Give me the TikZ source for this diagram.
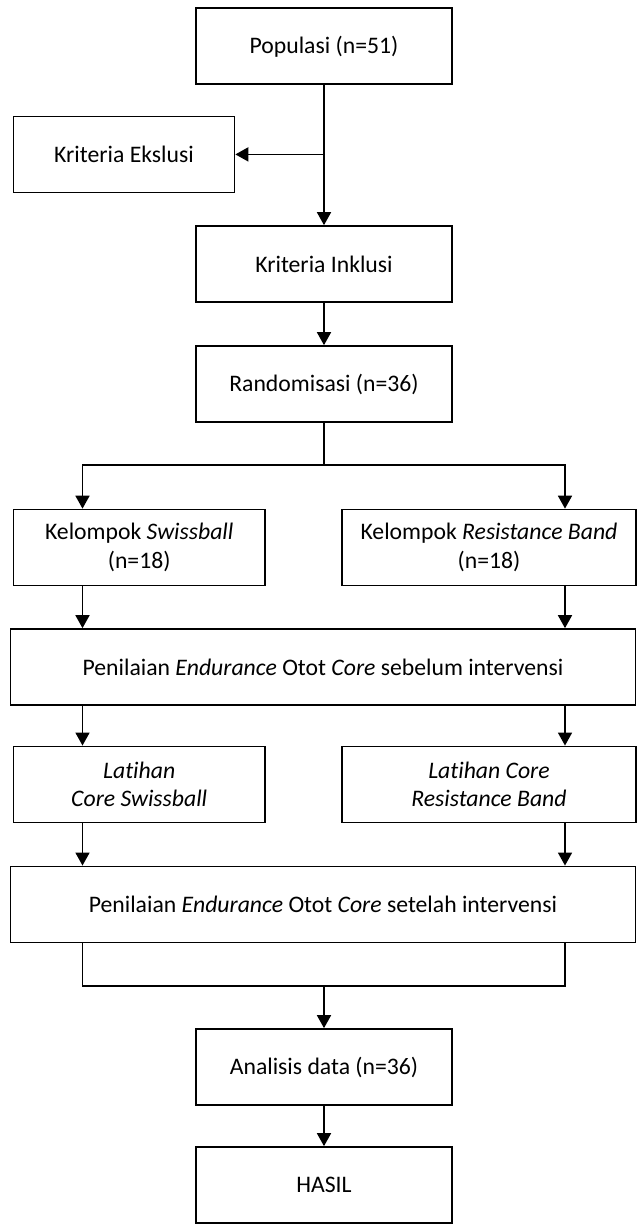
\documentclass[tikz,border=0pt]{standalone}
\usepackage{fontspec}
\setmainfont{Carlito}[Ligatures=NoCommon]
\usetikzlibrary{arrows.meta}
\begin{document}
\begin{tikzpicture}[x=1pt,y=-1pt,
  box/.style={draw, line width=1.7pt, inner sep=0pt, minimum height=76pt, align=center,
    font=\fontsize{23.7}{28.5}\selectfont},
  ln/.style={line width=1.7pt},
  arr/.style={line width=1.7pt, -{Triangle[length=13pt,width=14pt]}}]
\useasboundingbox (0,0) rectangle (637,1224);
\node[box, minimum width=256.5pt] (pop) at (324,46.3) {Populasi (n=51)};
\node[box, minimum width=221pt] (eks) at (124,154.4) {Kriteria Ekslusi};
\node[box, minimum width=256.5pt] (inkl) at (324,264) {Kriteria Inklusi};
\node[box, minimum width=256.5pt] (rand) at (324,384) {Randomisasi (n=36)};
\node[box, minimum width=251.6pt] (kelL) at (139.2,547.5) {Kelompok \textit{Swissball}\\(n=18)};
\node[box, minimum width=294pt] (kelR) at (489,547.5) {Kelompok \textit{Resistance Band}\\(n=18)};
\node[box, minimum width=625pt] (pen1) at (323,667) {Penilaian \textit{Endurance} Otot \textit{Core} sebelum intervensi};
\node[box, minimum width=251.6pt] (latL) at (139.2,784.4) {\textit{Latihan}\\\textit{Core Swissball}};
\node[box, minimum width=294pt] (latR) at (489,784.4) {\textit{Latihan Core}\\\textit{Resistance Band}};
\node[box, minimum width=625pt] (pen2) at (323,904.4) {Penilaian \textit{Endurance} Otot \textit{Core} setelah intervensi};
\node[box, minimum width=256.5pt] (ana) at (324,1067) {Analisis data (n=36)};
\node[box, minimum width=256.5pt] (has) at (324,1185) {HASIL};
\coordinate (xl) at (82.5,0);
\coordinate (xr) at (565,0);
\coordinate (j1) at (pop.south |- eks.east);
\coordinate (sp) at (324,465);
\coordinate (bl) at (82.5,986);
\coordinate (br) at (565,986);
\coordinate (bm) at (324,986);
\draw[arr] (pop.south) -- (inkl.north);
\draw[arr] (j1) -- (eks.east);
\draw[arr] (inkl.south) -- (rand.north);
\draw[ln] (rand.south) -- (sp);
\draw[arr] (sp) -| (xl |- kelL.north);
\draw[arr] (sp) -| (xr |- kelR.north);
\draw[arr] (xl |- kelL.south) -- (xl |- pen1.north);
\draw[arr] (xr |- kelR.south) -- (xr |- pen1.north);
\draw[arr] (xl |- pen1.south) -- (xl |- latL.north);
\draw[arr] (xr |- pen1.south) -- (xr |- latR.north);
\draw[arr] (xl |- latL.south) -- (xl |- pen2.north);
\draw[arr] (xr |- latR.south) -- (xr |- pen2.north);
\draw[ln] (xl |- pen2.south) -- (bl) -- (br) -- (xr |- pen2.south);
\draw[arr] (bm) -- (ana.north);
\draw[arr] (ana.south) -- (has.north);
\end{tikzpicture}
\end{document}
